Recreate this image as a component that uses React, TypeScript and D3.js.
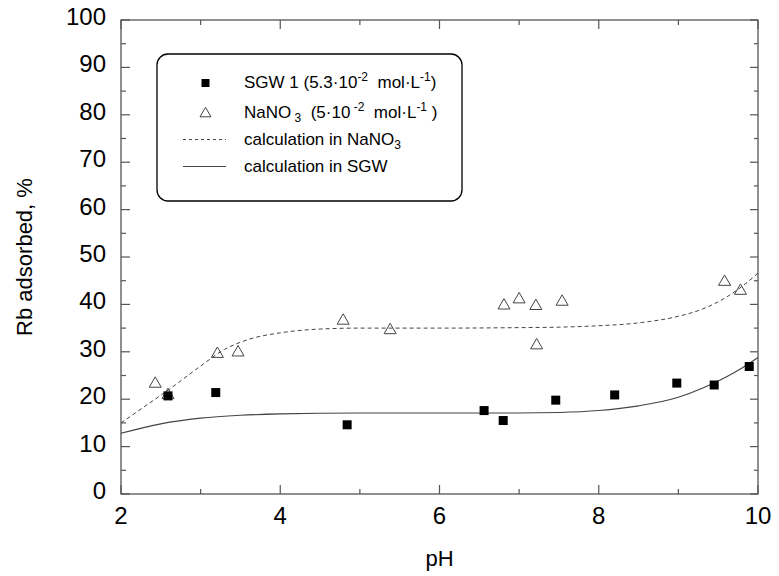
import React from "react";
import * as d3 from "d3";

const sgwPH = [2.59, 3.19, 4.84, 6.56, 6.8, 7.46, 8.2, 8.98, 9.45, 9.89];
const sgwVal = [20.7, 21.4, 14.6, 17.6, 15.5, 19.8, 20.9, 23.4, 23.0, 26.9];

const nanoPH = [2.43, 2.59, 3.21, 3.47, 4.79, 5.38, 6.81, 7.0, 7.21, 7.22, 7.54, 9.58, 9.78];
const nanoVal = [23.4, 21.0, 29.7, 30.0, 36.7, 34.7, 39.9, 41.2, 39.8, 31.5, 40.7, 44.9, 43.0];

const calcNanoPH = [2.0, 2.3, 2.6, 3.0, 3.3, 3.6, 4.0, 4.5, 5.0, 6.0, 7.0, 7.5, 8.0, 8.5, 9.0, 9.3, 9.6, 9.8, 10.0];
const calcNanoVal = [15.0, 18.5, 22.0, 27.0, 30.5, 32.6, 34.0, 34.8, 35.0, 35.0, 35.1, 35.2, 35.5, 36.1, 37.5, 39.0, 41.5, 43.8, 46.6];

const calcSgwPH = [2.0, 2.5, 3.0, 3.5, 4.0, 5.0, 6.0, 7.0, 7.5, 8.0, 8.5, 9.0, 9.3, 9.6, 9.8, 10.0];
const calcSgwVal = [12.8, 14.8, 16.0, 16.6, 16.9, 17.1, 17.1, 17.1, 17.2, 17.6, 18.6, 20.4, 22.3, 24.7, 26.6, 28.8];

const xMajor = [2, 4, 6, 8, 10];
const yMajor = [0, 10, 20, 30, 40, 50, 60, 70, 80, 90, 100];

const W = 779;
const H = 576;
const L = 121, R = 758, T = 20, B = 494;
const FONT = "Arial, 'Liberation Sans', Helvetica, sans-serif";
const AX = "#555";

export default function App() {
  const x = d3.scaleLinear().domain([2, 10]).range([L, R]);
  const y = d3.scaleLinear().domain([0, 100]).range([B, T]);
  const line = d3
    .line<[number, number]>()
    .x((d) => x(d[0]))
    .y((d) => y(d[1]))
    .curve(d3.curveMonotoneX);

  const nanoLine = line(calcNanoPH.map((p, i) => [p, calcNanoVal[i]]) as [number, number][]) || "";
  const sgwLine = line(calcSgwPH.map((p, i) => [p, calcSgwVal[i]]) as [number, number][]) || "";

  const xMinor = d3.range(3, 10, 2);
  const yMinor = d3.range(5, 100, 10);

  const tri = (cx: number, cy: number, s = 12) => {
    const h = s * 0.866;
    return `M${cx},${cy - h * 0.6} L${cx + s / 2},${cy + h * 0.4} L${cx - s / 2},${cy + h * 0.4} Z`;
  };

  const sq = 9;

  return (
    <svg width={W} height={H} style={{ position: "absolute", left: 0, top: 0, background: "#fff" }} fontFamily={FONT}>
      <rect x={0} y={0} width={W} height={H} fill="#fff" />
      {/* frame */}
      <rect x={L} y={T} width={R - L} height={B - T} fill="none" stroke={AX} strokeWidth={1.3} />
      {/* x ticks */}
      {xMajor.map((v) => (
        <g key={"xm" + v}>
          <line x1={x(v)} x2={x(v)} y1={B} y2={B - 9} stroke={AX} strokeWidth={1.2} />
          <line x1={x(v)} x2={x(v)} y1={T} y2={T + 9} stroke={AX} strokeWidth={1.2} />
          <text x={x(v)} y={B + 30} fontSize={24} textAnchor="middle" fill="#000">
            {v}
          </text>
        </g>
      ))}
      {xMinor.map((v) => (
        <g key={"xn" + v}>
          <line x1={x(v)} x2={x(v)} y1={B} y2={B - 5} stroke={AX} strokeWidth={1.2} />
          <line x1={x(v)} x2={x(v)} y1={T} y2={T + 5} stroke={AX} strokeWidth={1.2} />
        </g>
      ))}
      {yMajor.map((v) => (
        <g key={"ym" + v}>
          <line x1={L} x2={L + 9} y1={y(v)} y2={y(v)} stroke={AX} strokeWidth={1.2} />
          <line x1={R} x2={R - 8} y1={y(v)} y2={y(v)} stroke={AX} strokeWidth={1.2} />
          <text x={L - 15} y={y(v) + 5} fontSize={24} textAnchor="end" fill="#000">
            {v}
          </text>
        </g>
      ))}
      {yMinor.map((v) => (
        <g key={"yn" + v}>
          <line x1={L} x2={L + 5} y1={y(v)} y2={y(v)} stroke={AX} strokeWidth={1.2} />
          <line x1={R} x2={R - 4} y1={y(v)} y2={y(v)} stroke={AX} strokeWidth={1.2} />
        </g>
      ))}
      {/* axis titles */}
      <text x={(L + R) / 2} y={566} fontSize={22} textAnchor="middle" fill="#000">
        pH
      </text>
      <text
        transform={`translate(32, ${(T + B) / 2}) rotate(-90)`}
        fontSize={22}
        textAnchor="middle"
        fill="#000"
      >
        Rb adsorbed, %
      </text>

      {/* curves */}
      <path d={nanoLine} fill="none" stroke="#444" strokeWidth={1} strokeDasharray="4,3" />
      <path d={sgwLine} fill="none" stroke="#444" strokeWidth={1.1} />

      {/* markers */}
      {nanoPH.map((p, i) => (
        <path key={"t" + i} d={tri(x(p), y(nanoVal[i]))} fill="none" stroke="#444" strokeWidth={1} />
      ))}
      {sgwPH.map((p, i) => (
        <rect key={"s" + i} x={x(p) - sq / 2} y={y(sgwVal[i]) - sq / 2} width={sq} height={sq} fill="#000" />
      ))}

      {/* legend */}
      <rect x={157} y={54} width={305} height={147} rx={11} ry={11} fill="#fff" stroke="#000" strokeWidth={1.3} />
      <rect x={205.5 - 4} y={83 - 4} width={8} height={8} fill="#000" />
      <path d={tri(205.5, 113, 11)} fill="none" stroke="#444" strokeWidth={1} />
      <line x1={183} x2={226} y1={139.5} y2={139.5} stroke="#444" strokeWidth={1} strokeDasharray="3,3" />
      <line x1={183} x2={226} y1={166.5} y2={166.5} stroke="#444" strokeWidth={1.1} />
      <g fontSize={17} fill="#000">
        <text x={244} y={88}>
          SGW 1 (5.3·10
          <tspan dy={-7} fontSize={12}>-2</tspan>
          <tspan dy={7}>{"\u00a0 mol·L"}</tspan>
          <tspan dy={-7} fontSize={12}>-1</tspan>
          <tspan dy={7}>)</tspan>
        </text>
        <text x={244} y={118}>
          NaNO
          <tspan dy={4} fontSize={12}>{"\u00a03"}</tspan>
          <tspan dy={-4}>{"\u00a0 (5·10"}</tspan>
          <tspan dy={-7} fontSize={12}>{"\u00a0-2"}</tspan>
          <tspan dy={7}>{"\u00a0 mol·L"}</tspan>
          <tspan dy={-7} fontSize={12}>-1</tspan>
          <tspan dy={7}>{"\u00a0)"}</tspan>
        </text>
        <text x={244} y={145}>
          calculation in NaNO
          <tspan dy={4} fontSize={12}>3</tspan>
        </text>
        <text x={244} y={172}>calculation in SGW</text>
      </g>
    </svg>
  );
}
